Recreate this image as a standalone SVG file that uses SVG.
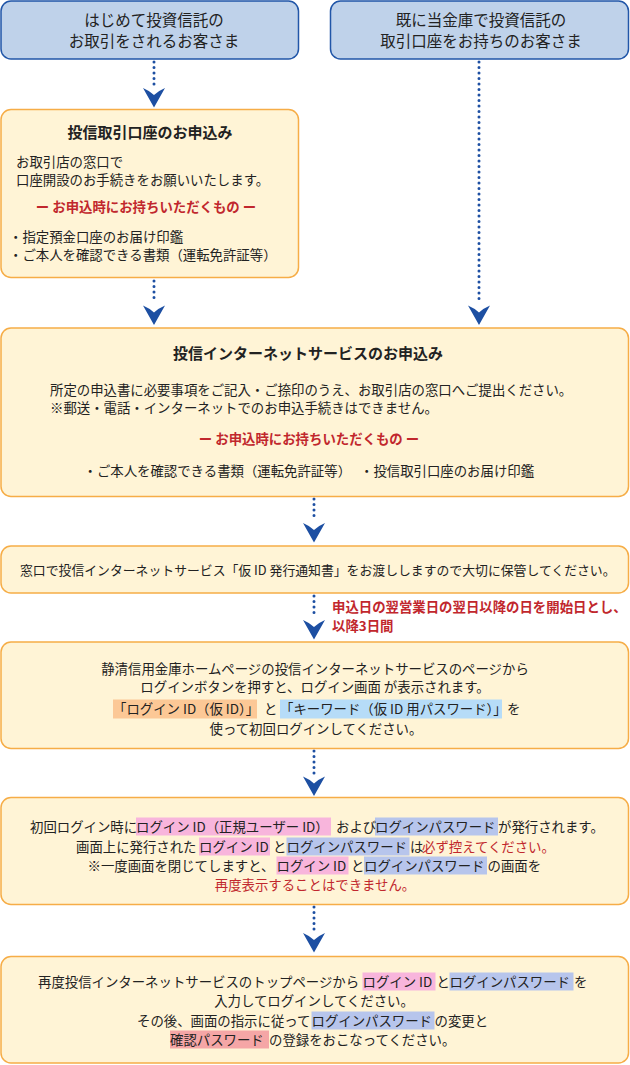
<svg xmlns="http://www.w3.org/2000/svg" xmlns:xlink="http://www.w3.org/1999/xlink" width="630" height="1065" viewBox="0 0 630 1065">
<style>
text{font-family:"Noto Sans CJK JP","Noto Sans CJK SC",sans-serif;fill:#222;font-size:13.4px}
.top{font-size:15.5px;text-anchor:middle}
.ttl{font-weight:bold;font-size:15px;text-anchor:middle}
.c{text-anchor:middle}
.red{fill:#c1272d}
.redb{fill:#c1272d;font-weight:bold}
.sm{font-size:12.85px}
.bbox{fill:#bfd2ea;stroke:#2156a8;stroke-width:1.5}
.obox{fill:#fff4d6;stroke:#f6ad47;stroke-width:1.5}
.dot{stroke:#1d4fa2;stroke-width:3;stroke-linecap:round;stroke-dasharray:0 5.5;fill:none}
.head{fill:#1d4fa2}
.hlo{fill:#fcc896}
.hlb{fill:#b6dcf8}
.hlp{fill:#f8b5dc}
.hll{fill:#b7c5ec}
.hls{fill:#f5a6a6}
</style>
<defs>
<path id="ah" d="M-11,0 Q-4,3 0,7 Q4,3 11,0 L0,19.5 Z"/>
</defs>

<g id="connectors">
<line class="dot" x1="154" y1="62" x2="154" y2="85"/>
<use xlink:href="#ah" class="head" x="154" y="88"/>
<line class="dot" x1="154" y1="281" x2="154" y2="303"/>
<use xlink:href="#ah" class="head" x="154" y="305.5"/>
<line class="dot" x1="479" y1="62" x2="479" y2="303"/>
<use xlink:href="#ah" class="head" x="479" y="305.5"/>
<line class="dot" x1="314" y1="499" x2="314" y2="520"/>
<use xlink:href="#ah" class="head" x="314" y="523"/>
<line class="dot" x1="314" y1="596" x2="314" y2="617"/>
<use xlink:href="#ah" class="head" x="314" y="620"/>
<line class="dot" x1="314" y1="751" x2="314" y2="774"/>
<use xlink:href="#ah" class="head" x="314" y="776.5"/>
<line class="dot" x1="314" y1="907" x2="314" y2="930"/>
<use xlink:href="#ah" class="head" x="314" y="933"/>
</g>

<g id="label-period">
<text class="redb"><tspan x="332" y="611.5">申込日の翌営業日の翌日以降の日を開始日とし、</tspan><tspan x="332" y="630.5">以降3日間</tspan></text>
</g>

<g id="node-new">
<rect class="bbox" x="1" y="1" width="297.5" height="58" rx="10"/>
<text class="top"><tspan x="154" y="25.5">はじめて投資信託の</tspan><tspan x="154" y="46.5">お取引をされるお客さま</tspan></text>
</g>

<g id="node-existing">
<rect class="bbox" x="330.5" y="1" width="298" height="58" rx="10"/>
<text class="top"><tspan x="481" y="25.5">既に当金庫で投資信託の</tspan><tspan x="481" y="46.5">取引口座をお持ちのお客さま</tspan></text>
</g>

<g id="node-account">
<rect class="obox" x="1" y="109.5" width="297.5" height="168" rx="10"/>
<text class="ttl" x="150" y="137.5">投信取引口座のお申込み</text>
<text><tspan x="16" y="166.5">お取引店の窓口で</tspan><tspan x="16" y="185">口座開設のお手続きをお願いいたします。</tspan></text>
<text class="redb c" x="146" y="211.5">ー お申込時にお持ちいただくもの ー</text>
<text><tspan x="9" y="241.5">・指定預金口座のお届け印鑑</tspan><tspan x="9" y="260">・ご本人を確認できる書類（運転免許証等）</tspan></text>
</g>

<g id="node-internet">
<rect class="obox" x="1" y="328" width="627.5" height="168.5" rx="10"/>
<text class="ttl" x="308" y="359">投信インターネットサービスのお申込み</text>
<text><tspan x="50" y="394.5">所定の申込書に必要事項をご記入・ご捺印のうえ、お取引店の窓口へご提出ください。</tspan><tspan x="50" y="413">※郵送・電話・インターネットでのお申込手続きはできません。</tspan></text>
<text class="redb c" x="309" y="444">ー お申込時にお持ちいただくもの ー</text>
<text y="475.5"><tspan x="83.5">・ご本人を確認できる書類（運転免許証等）</tspan><tspan x="360">・投信取引口座のお届け印鑑</tspan></text>
</g>

<g id="node-notice">
<rect class="obox" x="1" y="546" width="627.5" height="47" rx="10"/>
<text class="sm" x="20" y="575">窓口で投信インターネットサービス「仮 ID 発行通知書」をお渡ししますので大切に保管してください。</text>
</g>

<g id="node-first-login">
<rect class="obox" x="1" y="642" width="627.5" height="106.5" rx="10"/>
<text class="c"><tspan x="315" y="673.5">静清信用金庫ホームページの投信インターネットサービスのページから</tspan><tspan x="315" y="692">ログインボタンを押すと、ログイン画面 が表示されます。</tspan></text>
<rect class="hlo" x="113" y="699.5" width="144" height="19"/>
<rect class="hlb" x="280" y="699.5" width="222" height="19"/>
<text y="714"><tspan x="113">「ログイン ID（仮 ID）」</tspan><tspan x="264">と</tspan><tspan x="280">「キーワード（仮 ID 用パスワード）」</tspan><tspan x="507">を</tspan></text>
<text class="c" x="316" y="733.5">使って初回ログインしてください。</text>
</g>

<g id="node-issued">
<rect class="obox" x="1" y="797.5" width="627.5" height="107" rx="10"/>
<rect class="hlp" x="136" y="817.5" width="195" height="18"/>
<rect class="hll" x="375" y="817.5" width="123" height="18"/>
<text y="832"><tspan x="30">初回ログイン時に</tspan><tspan x="136">ログイン ID（正規ユーザー ID）</tspan><tspan x="336">および</tspan><tspan x="375">ログインパスワード</tspan><tspan x="498">が発行されます。</tspan></text>
<rect class="hlp" x="199" y="837.5" width="71" height="18"/>
<rect class="hll" x="286.5" y="837.5" width="123" height="18"/>
<text y="852"><tspan x="76">画面上に発行された</tspan><tspan x="199">ログイン ID</tspan><tspan x="273">と</tspan><tspan x="286.5">ログインパスワード</tspan><tspan x="410">は</tspan><tspan x="422" class="red">必ず控えてください。</tspan></text>
<rect class="hlp" x="276.5" y="856.5" width="72" height="18"/>
<rect class="hll" x="364" y="856.5" width="123" height="18"/>
<text y="871"><tspan x="87.5">※一度画面を閉じてしますと、</tspan><tspan x="276.5">ログイン ID</tspan><tspan x="351">と</tspan><tspan x="364">ログインパスワード</tspan><tspan x="487.5">の画面を</tspan></text>
<text class="red c" x="315" y="890">再度表示することはできません。</text>
</g>

<g id="node-relogin">
<rect class="obox" x="1" y="956.5" width="627.5" height="106.5" rx="10"/>
<rect class="hlp" x="362.5" y="972.5" width="73" height="18"/>
<rect class="hll" x="449.5" y="972.5" width="124" height="18"/>
<text y="987"><tspan x="38">再度投信インターネットサービスのトップページから</tspan><tspan x="362.5">ログイン ID</tspan><tspan x="436.5">と</tspan><tspan x="449.5">ログインパスワード</tspan><tspan x="574">を</tspan></text>
<text class="c" x="314" y="1005.5">入力してログインしてください。</text>
<rect class="hll" x="311.5" y="1011.5" width="123" height="18"/>
<text y="1026"><tspan x="137">その後、画面の指示に従って</tspan><tspan x="311.5">ログインパスワード</tspan><tspan x="434.5">の変更と</tspan></text>
<rect class="hls" x="170" y="1030.5" width="99" height="18"/>
<text y="1045"><tspan x="170">確認パスワード</tspan><tspan x="269">の登録をおこなってください。</tspan></text>
</g>
</svg>
